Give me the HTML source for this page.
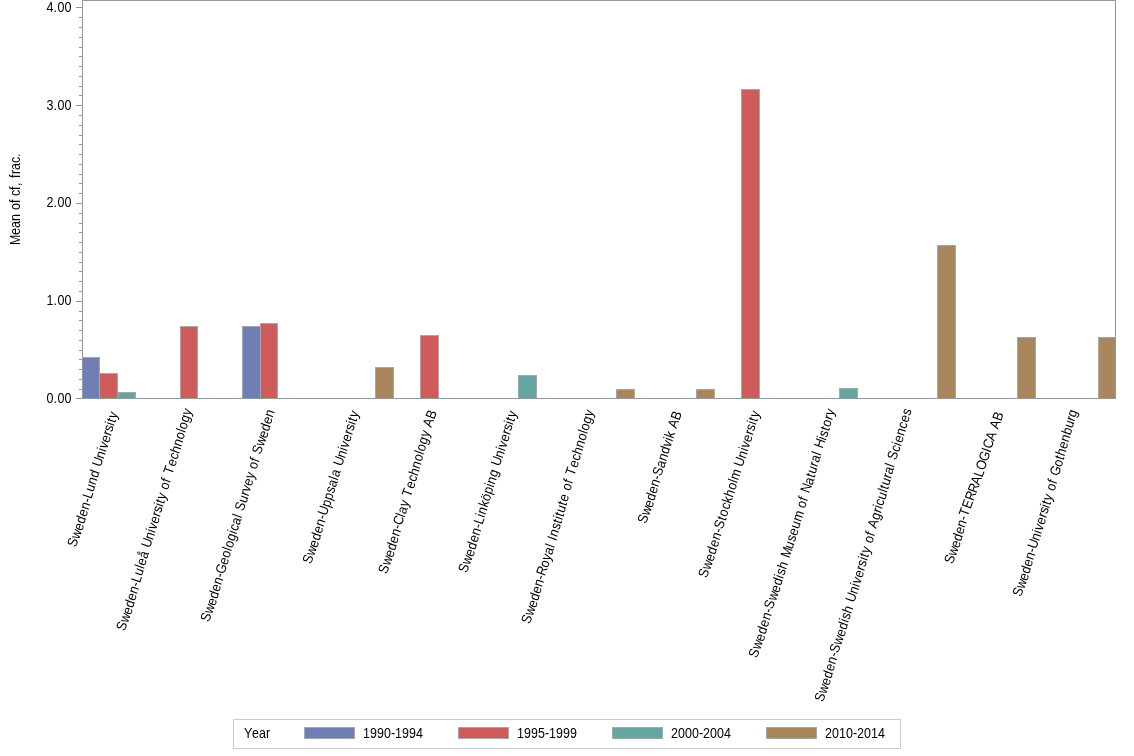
<!DOCTYPE html>
<html lang="en"><head><meta charset="utf-8"><title>Mean of cf, frac. by institution and year</title>
<style>html,body{margin:0;padding:0;background:#fff;}body{width:1134px;height:756px;overflow:hidden;}svg{display:block;}text{font-family:"Liberation Sans",Arial,sans-serif;font-size:14px;fill:#000;}</style></head><body>
<svg width="1134" height="756" viewBox="0 0 1134 756">
<rect x="0" y="0" width="1134" height="756" fill="#ffffff"/>
<g shape-rendering="crispEdges">
<rect x="82.5" y="357.5" width="17" height="41" fill="#6f7eb3" stroke="#a3a8a8" stroke-width="1"/>
<rect x="99.5" y="373.5" width="18" height="25" fill="#d05b5b" stroke="#a3a8a8" stroke-width="1"/>
<rect x="117.5" y="392.5" width="18" height="6" fill="#66a5a0" stroke="#a3a8a8" stroke-width="1"/>
<rect x="180.5" y="326.5" width="17" height="72" fill="#d05b5b" stroke="#a3a8a8" stroke-width="1"/>
<rect x="242.5" y="326.5" width="18" height="72" fill="#6f7eb3" stroke="#a3a8a8" stroke-width="1"/>
<rect x="260.5" y="323.5" width="17" height="75" fill="#d05b5b" stroke="#a3a8a8" stroke-width="1"/>
<rect x="375.5" y="367.5" width="18" height="31" fill="#a9865b" stroke="#a3a8a8" stroke-width="1"/>
<rect x="420.5" y="335.5" width="18" height="63" fill="#d05b5b" stroke="#a3a8a8" stroke-width="1"/>
<rect x="518.5" y="375.5" width="18" height="23" fill="#66a5a0" stroke="#a3a8a8" stroke-width="1"/>
<rect x="616.5" y="389.5" width="18" height="9" fill="#a9865b" stroke="#a3a8a8" stroke-width="1"/>
<rect x="696.5" y="389.5" width="18" height="9" fill="#a9865b" stroke="#a3a8a8" stroke-width="1"/>
<rect x="741.5" y="89.5" width="18" height="309" fill="#d05b5b" stroke="#a3a8a8" stroke-width="1"/>
<rect x="839.5" y="388.5" width="18" height="10" fill="#66a5a0" stroke="#a3a8a8" stroke-width="1"/>
<rect x="937.5" y="245.5" width="18" height="153" fill="#a9865b" stroke="#a3a8a8" stroke-width="1"/>
<rect x="1017.5" y="337.5" width="18" height="61" fill="#a9865b" stroke="#a3a8a8" stroke-width="1"/>
<rect x="1098.5" y="337.5" width="17" height="61" fill="#a9865b" stroke="#a3a8a8" stroke-width="1"/>
<rect x="82.5" y="0.5" width="1033" height="398" fill="none" stroke="#92999e" stroke-width="1"/>
<line x1="76" y1="398.5" x2="82" y2="398.5" stroke="#92999e" stroke-width="1"/>
<line x1="79" y1="389.5" x2="82" y2="389.5" stroke="#92999e" stroke-width="1"/>
<line x1="79" y1="379.5" x2="82" y2="379.5" stroke="#92999e" stroke-width="1"/>
<line x1="79" y1="369.5" x2="82" y2="369.5" stroke="#92999e" stroke-width="1"/>
<line x1="79" y1="359.5" x2="82" y2="359.5" stroke="#92999e" stroke-width="1"/>
<line x1="79" y1="350.5" x2="82" y2="350.5" stroke="#92999e" stroke-width="1"/>
<line x1="79" y1="340.5" x2="82" y2="340.5" stroke="#92999e" stroke-width="1"/>
<line x1="79" y1="330.5" x2="82" y2="330.5" stroke="#92999e" stroke-width="1"/>
<line x1="79" y1="320.5" x2="82" y2="320.5" stroke="#92999e" stroke-width="1"/>
<line x1="79" y1="311.5" x2="82" y2="311.5" stroke="#92999e" stroke-width="1"/>
<line x1="76" y1="301.5" x2="82" y2="301.5" stroke="#92999e" stroke-width="1"/>
<line x1="79" y1="291.5" x2="82" y2="291.5" stroke="#92999e" stroke-width="1"/>
<line x1="79" y1="281.5" x2="82" y2="281.5" stroke="#92999e" stroke-width="1"/>
<line x1="79" y1="271.5" x2="82" y2="271.5" stroke="#92999e" stroke-width="1"/>
<line x1="79" y1="262.5" x2="82" y2="262.5" stroke="#92999e" stroke-width="1"/>
<line x1="79" y1="252.5" x2="82" y2="252.5" stroke="#92999e" stroke-width="1"/>
<line x1="79" y1="242.5" x2="82" y2="242.5" stroke="#92999e" stroke-width="1"/>
<line x1="79" y1="232.5" x2="82" y2="232.5" stroke="#92999e" stroke-width="1"/>
<line x1="79" y1="223.5" x2="82" y2="223.5" stroke="#92999e" stroke-width="1"/>
<line x1="79" y1="213.5" x2="82" y2="213.5" stroke="#92999e" stroke-width="1"/>
<line x1="76" y1="203.5" x2="82" y2="203.5" stroke="#92999e" stroke-width="1"/>
<line x1="79" y1="193.5" x2="82" y2="193.5" stroke="#92999e" stroke-width="1"/>
<line x1="79" y1="183.5" x2="82" y2="183.5" stroke="#92999e" stroke-width="1"/>
<line x1="79" y1="174.5" x2="82" y2="174.5" stroke="#92999e" stroke-width="1"/>
<line x1="79" y1="164.5" x2="82" y2="164.5" stroke="#92999e" stroke-width="1"/>
<line x1="79" y1="154.5" x2="82" y2="154.5" stroke="#92999e" stroke-width="1"/>
<line x1="79" y1="144.5" x2="82" y2="144.5" stroke="#92999e" stroke-width="1"/>
<line x1="79" y1="135.5" x2="82" y2="135.5" stroke="#92999e" stroke-width="1"/>
<line x1="79" y1="125.5" x2="82" y2="125.5" stroke="#92999e" stroke-width="1"/>
<line x1="79" y1="115.5" x2="82" y2="115.5" stroke="#92999e" stroke-width="1"/>
<line x1="76" y1="105.5" x2="82" y2="105.5" stroke="#92999e" stroke-width="1"/>
<line x1="79" y1="95.5" x2="82" y2="95.5" stroke="#92999e" stroke-width="1"/>
<line x1="79" y1="86.5" x2="82" y2="86.5" stroke="#92999e" stroke-width="1"/>
<line x1="79" y1="76.5" x2="82" y2="76.5" stroke="#92999e" stroke-width="1"/>
<line x1="79" y1="66.5" x2="82" y2="66.5" stroke="#92999e" stroke-width="1"/>
<line x1="79" y1="56.5" x2="82" y2="56.5" stroke="#92999e" stroke-width="1"/>
<line x1="79" y1="47.5" x2="82" y2="47.5" stroke="#92999e" stroke-width="1"/>
<line x1="79" y1="37.5" x2="82" y2="37.5" stroke="#92999e" stroke-width="1"/>
<line x1="79" y1="27.5" x2="82" y2="27.5" stroke="#92999e" stroke-width="1"/>
<line x1="79" y1="17.5" x2="82" y2="17.5" stroke="#92999e" stroke-width="1"/>
<line x1="76" y1="7.5" x2="82" y2="7.5" stroke="#92999e" stroke-width="1"/>
</g>
<text transform="translate(46.5,403) scale(0.89286,1)" x="0 7.84 12.32 20.16" y="0">0.00</text>
<text transform="translate(46.5,305) scale(0.89286,1)" x="0 7.84 12.32 20.16" y="0">1.00</text>
<text transform="translate(46.5,207) scale(0.89286,1)" x="0 7.84 12.32 20.16" y="0">2.00</text>
<text transform="translate(46.5,110) scale(0.89286,1)" x="0 7.84 12.32 20.16" y="0">3.00</text>
<text transform="translate(46.5,12) scale(0.89286,1)" x="0 7.84 12.32 20.16" y="0">4.00</text>
<text transform="translate(20,245) rotate(-90) scale(0.89286,1)" x="0 11.2 19.04 26.88 34.72 39.2 47.04 50.4 54.88 61.6 66.08 70.56 75.04 79.52 84 91.84 98.56" y="0 0 0 0 0 0 0 0 0 0 0 0 0 0 0 0 0">Mean of cf, frac.</text>
<text transform="translate(77,547) rotate(-70) scale(0.89286,1)" x="-1.12 8.49 18.1 26.27 34.44 42.61 50.78 55.39 63.56 71.73 79.9 88.07 92.68 102.29 110.46 114.02 121.13 129.3 133.91 141.03 144.58 149.19" y="-0.86 -0.72 -0.57 -1.04 -1.51 -1.97 -2.44 -2.84 -3.31 -3.77 -4.24 -4.71 -5.11 -4.96 -5.43 -5.49 -5.62 -6.09 -6.49 -6.62 -6.69 -7.09">Sweden-Lund University</text>
<text transform="translate(127,630) rotate(-70) scale(0.89286,1)" x="-2.47 7.11 16.69 24.83 32.97 41.12 49.26 53.86 62 70.14 73.69 81.83 89.97 94.57 104.15 112.3 115.84 122.93 131.07 135.67 142.76 146.31 150.9 157.99 162.59 170.74 175.33 179.93 189.51 197.66 204.74 212.89 221.03 229.17 232.72 240.86 249" y="-1.54 -1.45 -1.37 -1.89 -2.4 -2.91 -3.43 -3.86 -4.37 -4.89 -4.97 -5.49 -6 -6.43 -6.35 -6.86 -6.95 -7.12 -7.63 -8.06 -8.23 -8.32 -8.75 -8.92 -9.35 -9.86 -10.29 -10.72 -10.64 -11.15 -11.32 -11.84 -12.35 -12.87 -12.95 -13.47 -13.98">Sweden-Luleå University of Technology</text>
<text transform="translate(209,623) rotate(-70) scale(0.89286,1)" x="0.49 10.05 19.6 27.72 35.85 43.97 52.09 56.68 67.29 75.41 83.54 87.07 95.2 103.32 106.85 113.93 122.05 125.59 130.17 139.73 147.85 152.44 159.51 167.64 174.71 179.3 187.42 192.01 196.59 206.15 215.71 223.83 231.95 240.08" y="-0.26 -0.15 -0.04 -0.53 -1.02 -1.51 -2 -2.41 -2.64 -3.13 -3.62 -3.69 -4.18 -4.67 -4.75 -4.9 -5.39 -5.47 -5.88 -5.77 -6.26 -6.67 -6.83 -7.32 -7.47 -7.88 -8.37 -8.79 -9.2 -9.09 -8.97 -9.46 -9.95 -10.44">Sweden-Geological Survey of Sweden</text>
<text transform="translate(310,565) rotate(-70) scale(0.89286,1)" x="0.86 10.51 20.18 28.39 36.59 44.8 53.01 57.65 67.31 75.52 83.73 90.88 99.09 102.66 110.87 115.5 125.17 133.38 136.95 144.1 152.3 156.94 164.09 167.66 172.29" y="0.79 0.9 1.01 0.53 0.04 -0.45 -0.94 -1.35 -1.24 -1.73 -2.22 -2.37 -2.86 -2.93 -3.42 -3.83 -3.72 -4.21 -4.28 -4.43 -4.92 -5.34 -5.49 -5.56 -5.97">Sweden-Uppsala University</text>
<text transform="translate(388,573) rotate(-70) scale(0.89286,1)" x="-1.99 7.65 17.3 25.5 33.7 41.89 50.09 54.72 64.36 67.93 76.13 83.26 87.89 97.53 105.73 112.86 121.06 129.25 137.45 141.01 149.21 157.41 164.54 169.17 178.81" y="-0.63 -0.61 -0.59 -1.16 -1.72 -2.29 -2.86 -3.31 -3.3 -3.41 -3.97 -4.19 -4.65 -4.62 -5.19 -5.41 -5.97 -6.54 -7.1 -7.21 -7.78 -8.35 -8.56 -9.02 -9">Sweden-Clay Technology AB</text>
<text transform="translate(468,572) rotate(-70) scale(0.89286,1)" x="-2.14 7.51 17.18 25.39 33.6 41.8 50.01 54.65 62.86 66.43 74.64 81.79 89.99 98.2 101.78 109.99 118.19 122.83 132.5 140.7 144.28 151.42 159.63 164.27 171.41 174.99 179.62" y="-0.58 -0.47 -0.35 -0.83 -1.32 -1.81 -2.29 -2.71 -3.19 -3.27 -3.75 -3.9 -4.39 -4.88 -4.95 -5.44 -5.92 -6.34 -6.22 -6.7 -6.78 -6.93 -7.41 -7.83 -7.98 -8.05 -8.46">Sweden-Linköping University</text>
<text transform="translate(531,621) rotate(-70) scale(0.89286,1)" x="-4.09 5.48 15.06 23.2 31.33 39.47 47.61 52.2 61.78 69.92 77 85.14 88.68 93.28 97.87 106.01 113.09 117.69 121.23 125.83 133.96 138.56 146.7 151.29 159.43 164.02 168.62 178.19 186.33 193.42 201.55 209.69 217.83 221.37 229.51 237.65" y="0.05 0.14 0.23 -0.28 -0.79 -1.3 -1.8 -2.23 -2.14 -2.65 -2.82 -3.32 -3.41 -3.83 -4.26 -4.77 -4.94 -5.36 -5.44 -5.87 -6.38 -6.8 -7.31 -7.74 -8.25 -8.67 -9.1 -9.01 -9.52 -9.68 -10.19 -10.7 -11.21 -11.3 -11.81 -12.31">Sweden-Royal Institute of Technology</text>
<text transform="translate(646,525) rotate(-70) scale(0.89286,1)" x="0.7 10.21 19.72 27.8 35.89 43.97 52.06 56.62 66.14 74.22 82.31 90.39 97.43 100.95 107.99 112.55 122.07" y="-0.33 -0.21 -0.08 -0.56 -1.03 -1.51 -1.99 -2.4 -2.27 -2.75 -3.23 -3.7 -3.84 -3.92 -4.06 -4.46 -4.34">Sweden-Sandvik AB</text>
<text transform="translate(706,578) rotate(-70) scale(0.89286,1)" x="-0.33 9.45 19.26 27.57 35.89 44.2 52.52 57.22 66.99 71.69 80.01 87.24 94.48 102.8 111.11 114.73 125.61 130.31 140.11 148.43 152.05 159.29 167.6 172.3 179.54 183.16 187.85" y="0.96 1.08 1.22 0.74 0.26 -0.21 -0.69 -1.1 -0.97 -1.38 -1.85 -1.99 -2.13 -2.61 -3.08 -3.15 -3.36 -3.76 -3.63 -4.11 -4.18 -4.32 -4.79 -5.2 -5.34 -5.41 -5.82">Sweden-Stockholm University</text>
<text transform="translate(757,660) rotate(-70) scale(0.89286,1)" x="1.65 11.38 21.14 29.43 37.71 45.99 54.27 58.95 68.69 78.45 86.73 95.01 98.62 105.83 114.11 118.79 129.62 137.9 145.11 153.39 161.68 172.51 177.19 185.47 190.15 194.83 204.59 212.87 217.55 225.83 230.51 238.79 242.39 247.07 256.83 260.43 267.64 272.32 280.6 285.28" y="-0.64 -0.51 -0.36 -0.83 -1.3 -1.77 -2.24 -2.64 -2.5 -2.36 -2.83 -3.3 -3.36 -3.5 -3.97 -4.37 -4.56 -5.03 -5.16 -5.63 -6.1 -6.29 -6.69 -7.16 -7.56 -7.97 -7.82 -8.29 -8.69 -9.16 -9.56 -10.03 -10.1 -10.5 -10.36 -10.43 -10.56 -10.96 -11.43 -11.83">Sweden-Swedish Museum of Natural History</text>
<text transform="translate(821,703) rotate(-70) scale(0.89286,1)" x="1.25 10.95 20.66 28.9 37.15 45.39 53.64 58.29 67.99 77.7 85.94 94.19 97.77 104.95 113.19 117.85 127.56 135.81 139.39 146.57 154.81 159.47 166.65 170.23 174.89 182.07 186.72 194.97 199.62 204.28 213.97 222.22 226.87 230.46 237.64 245.88 249.47 254.12 262.37 267.02 275.27 278.86 283.51 293.21 300.38 303.97 312.22 320.46 327.64 335.88" y="1.61 1.65 1.69 1.14 0.59 0.03 -0.52 -0.97 -0.93 -0.89 -1.44 -2 -2.1 -2.3 -2.86 -3.31 -3.27 -3.82 -3.92 -4.13 -4.68 -5.13 -5.34 -5.44 -5.89 -6.09 -6.54 -7.09 -7.54 -7.99 -7.95 -8.51 -8.96 -9.06 -9.26 -9.81 -9.92 -10.37 -10.92 -11.37 -11.92 -12.02 -12.47 -12.43 -12.64 -12.74 -13.29 -13.84 -14.05 -14.6">Sweden-Swedish University of Agricultural Sciences</text>
<text transform="translate(949,571) rotate(-70) scale(0.89286,1)" x="8.24 17.67 27.08 35.09 43.1 51.11 59.12 63.64 73.07 82.49 91.9 101.31 110.74 118.75 129.19 139.64 144.16 153.57 163 167.52 176.95" y="1.36 1.45 1.53 1.02 0.5 -0.01 -0.52 -0.95 -0.87 -0.78 -0.7 -0.62 -0.53 -1.05 -1.3 -1.56 -1.99 -1.91 -1.82 -2.25 -2.17">Sweden-TERRALOGICA AB</text>
<text transform="translate(1020,598) rotate(-70) scale(0.89286,1)" x="1.07 10.61 20.16 28.27 36.39 44.5 52.61 57.2 66.74 74.85 78.39 85.45 93.57 98.15 105.21 108.74 113.33 120.39 124.97 133.09 137.67 142.25 152.84 160.96 165.54 173.65 181.77 189.88 198 206.11 210.69" y="0.72 0.82 0.92 0.42 -0.08 -0.58 -1.08 -1.5 -1.4 -1.9 -1.98 -2.14 -2.64 -3.06 -3.22 -3.3 -3.72 -3.88 -4.3 -4.81 -5.23 -5.65 -5.88 -6.38 -6.8 -7.31 -7.81 -8.31 -8.81 -9.31 -9.73">Sweden-University of Gothenburg</text>
<rect x="233.5" y="719.5" width="667" height="29" fill="#fff" stroke="#cccccc" stroke-width="1" shape-rendering="crispEdges"/>
<text transform="translate(244,738) scale(0.89286,1)" x="0 8.96 16.8 24.64" y="0">Year</text>
<rect x="304.5" y="727.5" width="50" height="11" fill="#6f7eb3" stroke="#a3a8a8" stroke-width="1" shape-rendering="crispEdges"/>
<text transform="translate(363,738) scale(0.89286,1)" x="0 7.84 15.68 23.52 31.36 35.84 43.68 51.52 59.36" y="0">1990-1994</text>
<rect x="458.5" y="727.5" width="50" height="11" fill="#d05b5b" stroke="#a3a8a8" stroke-width="1" shape-rendering="crispEdges"/>
<text transform="translate(517,738) scale(0.89286,1)" x="0 7.84 15.68 23.52 31.36 35.84 43.68 51.52 59.36" y="0">1995-1999</text>
<rect x="612.5" y="727.5" width="50" height="11" fill="#66a5a0" stroke="#a3a8a8" stroke-width="1" shape-rendering="crispEdges"/>
<text transform="translate(671,738) scale(0.89286,1)" x="0 7.84 15.68 23.52 31.36 35.84 43.68 51.52 59.36" y="0">2000-2004</text>
<rect x="766.5" y="727.5" width="50" height="11" fill="#a9865b" stroke="#a3a8a8" stroke-width="1" shape-rendering="crispEdges"/>
<text transform="translate(825,738) scale(0.89286,1)" x="0 7.84 15.68 23.52 31.36 35.84 43.68 51.52 59.36" y="0">2010-2014</text>
</svg></body></html>
